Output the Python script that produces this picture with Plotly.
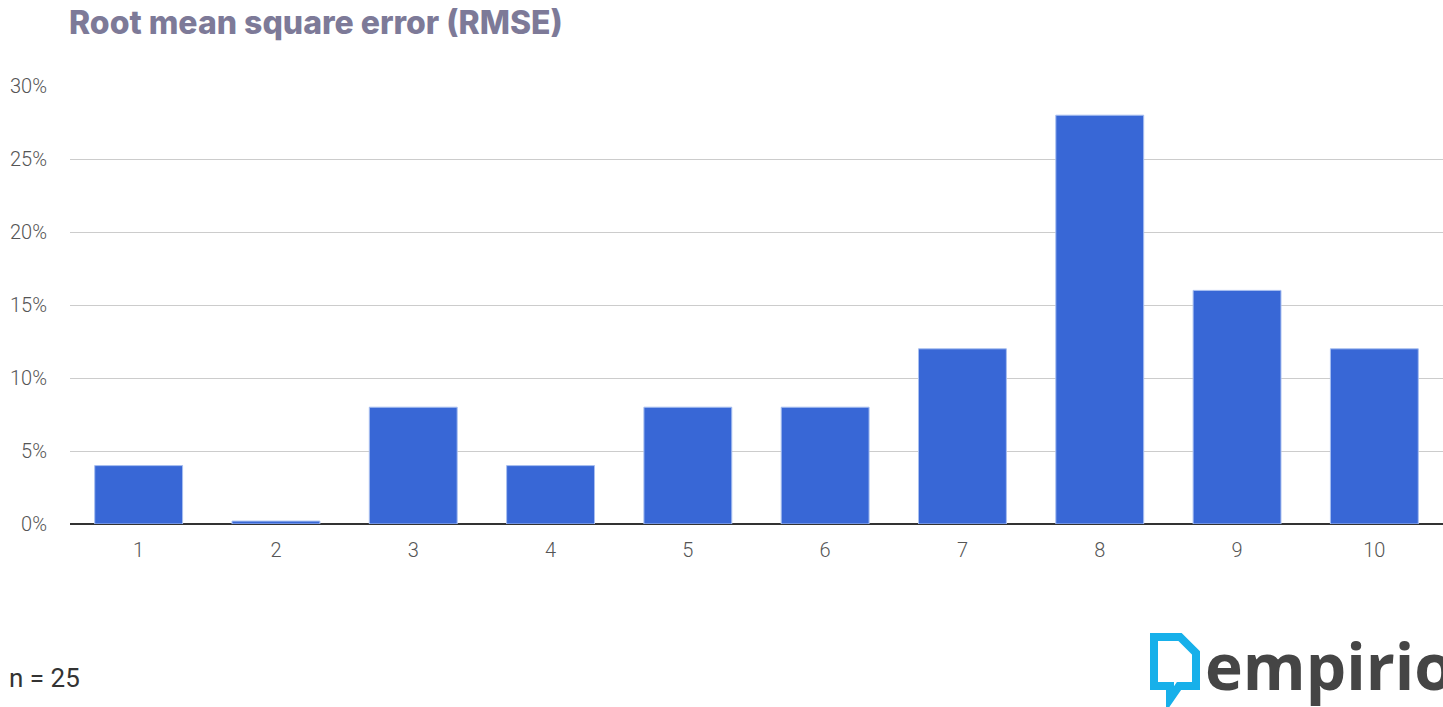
import plotly.graph_objects as go

categories = ["1", "2", "3", "4", "5", "6", "7", "8", "9", "10"]
values = [4, 0.2, 8, 4, 8, 8, 12, 28, 16, 12]
tick_vals = [0, 5, 10, 15, 20, 25, 30]
tick_text = ["0%", "5%", "10%", "15%", "20%", "25%", "30%"]
title_text = "Root mean square error (RMSE)"
note_text = "n = 25"
brand_text = "empirio"

W, H = 1443, 707
L, R, T, B = 70, 0, 86, 183
PW, PH = W - L - R, H - T - B

def px(x):
    return (x - L) / PW

def py(y):
    return (H - B - y) / PH

fig = go.Figure()
fig.add_trace(go.Bar(
    x=categories, y=values,
    marker=dict(color="#3867d6", line=dict(color="#a8bff0", width=1)),
    hoverinfo="skip",
))

fig.update_layout(
    width=W, height=H,
    margin=dict(l=L, r=R, t=T, b=B),
    paper_bgcolor="white", plot_bgcolor="white",
    bargap=0.36,
    showlegend=False,
    font=dict(family="Roboto", color="#555555", size=18),
    xaxis=dict(type="category", showgrid=False, ticks="", tickfont=dict(size=20, color="#555555", weight=300),
               showline=False, zeroline=False, ticklabelstandoff=12),
    yaxis=dict(range=[0, 30], tickvals=tick_vals, ticktext=tick_text,
               showgrid=True, gridcolor="#cccccc", gridwidth=1,
               zeroline=True, zerolinecolor="#333333", zerolinewidth=1.5,
               tickfont=dict(size=20, color="#555555", weight=300), ticklabelstandoff=22),
)

# Title
fig.add_annotation(xref="paper", yref="paper", x=px(67), y=py(22), text=title_text,
                   showarrow=False, xanchor="left", yanchor="middle",
                   font=dict(family="Inter", size=32, color="#7d7a98", weight=800))
# n note
fig.add_annotation(xref="paper", yref="paper", x=px(7), y=py(678), text=note_text,
                   showarrow=False, xanchor="left", yanchor="middle",
                   font=dict(family="Roboto", size=26, color="#333333"))
# Brand text
fig.add_annotation(xref="paper", yref="paper", x=px(1203), y=py(665), text=brand_text,
                   showarrow=False, xanchor="left", yanchor="middle",
                   font=dict(family="Open Sans", size=64, color="#454545", weight=700))
# Brand icon
pts = [(1154, 637), (1180, 637), (1196, 653), (1196, 686), (1179, 686), (1170, 699), (1170, 686), (1154, 686)]
path = "M " + " L ".join(f"{px(a):.5f},{py(b):.5f}" for a, b in pts) + " Z"
fig.add_shape(type="path", xref="paper", yref="paper", path=path,
              line=dict(color="#17b0ea", width=8), fillcolor="rgba(0,0,0,0)")

fig.write_html("out.html", config={"displayModeBar": False},
               post_script="document.body.style.margin='0';document.body.style.overflow='hidden';")
